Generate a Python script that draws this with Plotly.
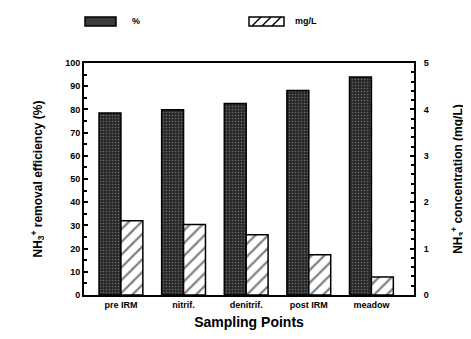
import plotly.graph_objects as go

categories = ["pre IRM", "nitrif.", "denitrif.", "post IRM", "meadow"]
removal_pct = [78.4, 79.9, 82.5, 88.2, 94.0]
conc_mgL = [1.60, 1.52, 1.30, 0.87, 0.39]
left_ticks = [0, 10, 20, 30, 40, 50, 60, 70, 80, 90, 100]
right_ticks = [0, 1, 2, 3, 4, 5]

W, H = 471, 339
L, R, T, B = 76, 406, 55, 287

def px(x):
    return (x - L) / (R - L)

def py(y):
    return (B - y) / (B - T)

fig = go.Figure()
fig.add_trace(go.Bar(
    x=categories, y=removal_pct, name="%", yaxis="y",
    width=0.35, offset=-0.35,
    marker=dict(color="#333333", line=dict(color="black", width=1.5),
                pattern=dict(shape=".", fgcolor="#aaaaaa", bgcolor="#2a2a2a", size=3, solidity=0.2)),
    showlegend=False,
))
fig.add_trace(go.Bar(
    x=categories, y=conc_mgL, name="mg/L", yaxis="y2",
    width=0.35, offset=0,
    marker=dict(color="white", line=dict(color="black", width=1.5),
                pattern=dict(shape="/", fgcolor="black", bgcolor="white", size=9, solidity=0.25)),
    showlegend=False,
))

tickfont = dict(family="Liberation Sans", size=9, color="black", weight="bold")
fig.update_layout(
    width=W, height=H,
    margin=dict(l=L, r=W - R, t=T, b=H - B),
    paper_bgcolor="white", plot_bgcolor="white",
    barmode="overlay",
    font=dict(family="Liberation Sans", color="black"),
    xaxis=dict(range=[-0.59, 4.68], showline=True, linecolor="black", linewidth=2, mirror=True,
               ticks="", tickfont=tickfont, showgrid=False,
               title=dict(text="Sampling Points", font=dict(size=14, family="Liberation Sans", weight="bold"), standoff=8)),
    yaxis=dict(range=[0, 100], tickvals=left_ticks, showline=True, linecolor="black", linewidth=2,
               ticks="inside", ticklen=4, tickwidth=1.5, tickcolor="black",
               minor=dict(dtick=5, ticks="inside", ticklen=3, tickcolor="black"),
               tickfont=tickfont, showgrid=False, zeroline=False,
               title=dict(text="NH<sub>3</sub><sup>+</sup> removal efficiency (%)",
                          font=dict(size=12, family="Liberation Sans", weight="bold"), standoff=20)),
    yaxis2=dict(range=[0, 5], tickvals=right_ticks, overlaying="y", side="right",
                showline=True, linecolor="black", linewidth=2,
                ticks="inside", ticklen=4, tickwidth=1.5, tickcolor="black",
                minor=dict(dtick=0.2, ticks="inside", ticklen=3, tickcolor="black"),
                tickfont=tickfont, showgrid=False, zeroline=False, ticklabelstandoff=6,
                title=dict(text="NH<sub>3</sub><sup>+</sup> concentration (mg/L)",
                           font=dict(size=12, family="Liberation Sans", weight="bold"), standoff=26)),
)

# Legend (manual)
shapes = []
shapes.append(dict(type="rect", xref="paper", yref="paper",
                   x0=px(77), x1=px(108), y0=py(18), y1=py(9),
                   fillcolor="#3a3a3a", line=dict(color="black", width=1.5)))
shapes.append(dict(type="rect", xref="paper", yref="paper",
                   x0=px(241), x1=px(276), y0=py(18), y1=py(9),
                   fillcolor="white", line=dict(color="black", width=1.5)))
for xs in [244, 254, 264]:
    shapes.append(dict(type="line", xref="paper", yref="paper",
                       x0=px(xs), x1=px(xs + 9), y0=py(18), y1=py(9),
                       line=dict(color="black", width=1.5)))
fig.update_layout(shapes=shapes)
fig.add_annotation(xref="paper", yref="paper", x=px(122), y=py(13.5), text="%",
                   showarrow=False, xanchor="left", yanchor="middle",
                   font=dict(size=9, family="Liberation Sans", weight="bold"))
fig.add_annotation(xref="paper", yref="paper", x=px(285), y=py(13.5), text="mg/L",
                   showarrow=False, xanchor="left", yanchor="middle",
                   font=dict(size=9, family="Liberation Sans", weight="bold"))

fig.write_html("out.html")
